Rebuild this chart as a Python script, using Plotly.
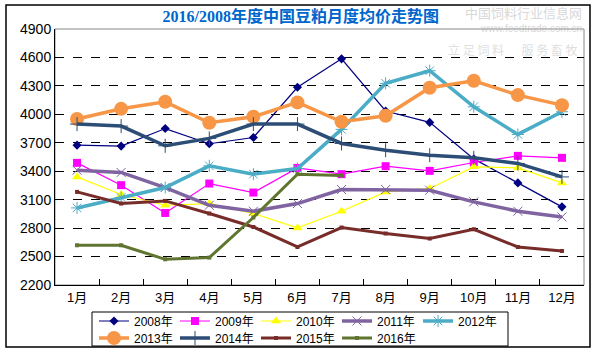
import plotly.graph_objects as go

months = ["1月", "2月", "3月", "4月", "5月", "6月", "7月", "8月", "9月", "10月", "11月", "12月"]
y_ticks = [2200, 2500, 2800, 3100, 3400, 3700, 4000, 4300, 4600, 4900]

v2008 = [3675, 3665, 3850, 3690, 3756, 4285, 4585, 4035, 3915, 3530, 3277, 3024]
v2009 = [3488, 3253, 2960, 3270, 3175, 3435, 3369, 3453, 3404, 3492, 3562, 3541]
v2010 = [3340, 3154, 3041, 3059, 2954, 2802, 2978, 3182, 3218, 3446, 3435, 3277]
v2011 = [3411, 3387, 3228, 3041, 2978, 3059, 3207, 3207, 3200, 3077, 2978, 2918]
v2012 = [3013, 3122, 3228, 3457, 3369, 3429, 3841, 4327, 4460, 4080, 3788, 4027]
v2013 = [3950, 4058, 4132, 3911, 3974, 4126, 3921, 3985, 4280, 4354, 4203, 4097]
v2014 = [3897, 3876, 3668, 3746, 3897, 3897, 3693, 3622, 3569, 3541, 3482, 3340]
v2015 = [3182, 3059, 3087, 2954, 2812, 2601, 2806, 2743, 2690, 2788, 2601, 2559]
v2016 = [2619, 2619, 2471, 2489, 2912, 3369, 3355]

series = [
    ("2008年", v2008, "#000080", 1.2, "diamond", 7, None, "legend"),
    ("2009年", v2009, "#FF00FF", 1.2, "square", 8, None, "legend"),
    ("2010年", v2010, "#FFFF00", 1.2, "triangle-up", 9, None, "legend"),
    ("2011年", v2011, "#8064A2", 3.5, "x-thin-open", 9, "#8064A2", "legend"),
    ("2012年", v2012, "#4BACC6", 3.5, "asterisk-open", 10, "#4BACC6", "legend"),
    ("2013年", v2013, "#F79646", 3.5, "circle", 14, None, "legend2"),
    ("2014年", v2014, "#2C4D75", 3.5, "cross-thin-open", 10, "#2C4D75", "legend2"),
    ("2015年", v2015, "#772C2A", 3, "square", 4, None, "legend2"),
    ("2016年", v2016, "#5F7530", 3, "square", 4, None, "legend2"),
]

fig = go.Figure()
for name, vals, color, w, sym, size, mline, lg in series:
    marker = dict(symbol=sym, size=size, color=color)
    if mline:
        marker["line"] = dict(color=mline, width=1)
    fig.add_trace(go.Scatter(
        x=months[:len(vals)], y=vals, name=name, mode="lines+markers",
        line=dict(color=color, width=w), marker=marker, legend=lg,
    ))

font_main = "Liberation Sans, Noto Sans CJK SC, sans-serif"
PW, PH = 529, 256

def px(xp):
    return (xp - 55) / PW

def py(yp):
    return (285 - yp) / PH

leg_common = dict(orientation="h", xanchor="left", yanchor="middle",
                  bgcolor="rgba(0,0,0,0)", borderwidth=0,
                  entrywidth=36, entrywidthmode="pixels",
                  font=dict(family=font_main, size=12), itemwidth=30,
                  tracegroupgap=0, traceorder="normal")

fig.update_layout(
    width=598, height=356,
    margin=dict(l=55, r=14, t=29, b=71, autoexpand=False),
    paper_bgcolor="white", plot_bgcolor="white",
    font=dict(family=font_main, size=12, color="black"),
    title=dict(text="<b>2016/2008年度中国豆粕月度均价走势图</b>", x=0.503, xanchor="center",
               y=0.955, yanchor="middle",
               font=dict(family="Liberation Serif, Noto Sans CJK SC, serif", size=16, color="#0066CC")),
    showlegend=True,
    legend=dict(x=px(94), y=py(321), **leg_common),
    legend2=dict(x=px(94), y=py(338), **leg_common),
    xaxis=dict(type="category", categoryorder="array", categoryarray=months,
               showgrid=False, showline=True, linecolor="black", linewidth=1,
               ticks="inside", tickson="boundaries", ticklen=6, tickcolor="black",
               tickfont=dict(size=13), mirror=False, range=[-0.5, 11.5]),
    yaxis=dict(range=[2200, 4900], tickvals=y_ticks, showgrid=True,
               gridcolor="black", griddash="dash", gridwidth=1,
               showline=True, linecolor="black", linewidth=1, ticks="",
               tickfont=dict(size=14), zeroline=False),
)

# plot area gray top/right border
fig.add_shape(type="rect", xref="paper", yref="paper", x0=0, x1=1, y0=0, y1=1,
              line=dict(color="#888888", width=1), layer="below")
# legend box
fig.add_shape(type="rect", xref="paper", yref="paper",
              x0=px(92), x1=px(508), y0=py(346), y1=py(312),
              line=dict(color="black", width=1))
# outer frame
fig.add_shape(type="rect", xref="paper", yref="paper",
              x0=px(6), x1=px(590), y0=py(347), y1=py(5),
              line=dict(color="black", width=1.5))

# faint watermark
fig.add_annotation(text="中国饲料行业信息网", xref="paper", yref="paper",
                   x=px(584), y=py(12), xanchor="right", yanchor="middle",
                   showarrow=False, font=dict(size=13, color="rgba(180,180,180,0.55)",
                                               family="Noto Sans CJK SC"))
fig.add_annotation(text="www.feedtrade.com.cn", xref="paper", yref="paper",
                   x=px(584), y=py(28), xanchor="right", yanchor="middle",
                   showarrow=False, font=dict(size=10, color="rgba(180,180,180,0.55)"))
fig.add_annotation(text="立 足 饲 料 　 服 务 畜 牧", xref="paper", yref="paper",
                   x=px(580), y=py(49), xanchor="right", yanchor="middle",
                   showarrow=False, font=dict(size=12, color="rgba(190,190,190,0.5)",
                                               family="Noto Sans CJK SC"))

fig.write_html("out.html", config={"displayModeBar": False},
               post_script="document.body.style.margin='0';")
